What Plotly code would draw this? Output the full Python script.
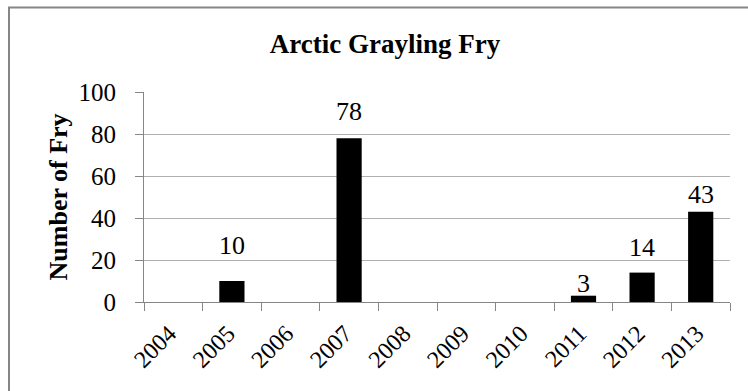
import plotly.graph_objects as go

years = ["2004", "2005", "2006", "2007", "2008", "2009", "2010", "2011", "2012", "2013"]
fry_counts = [0, 10, 0, 78, 0, 0, 0, 3, 14, 43]
y_ticks = [0, 20, 40, 60, 80, 100]
# vertical offset (px) of each value label above its bar top
label_offsets = [0, 36, 0, 27, 0, 0, 0, 12, 25, 17]

SERIF = "Liberation Serif, Times New Roman, serif"
AXIS_GRAY = "#868686"

fig = go.Figure(
    go.Bar(
        x=years,
        y=fry_counts,
        marker=dict(color="black", line=dict(width=0)),
        hoverinfo="x+y",
    )
)

# value labels; category axes take the category index as position
for idx, (val, off) in enumerate(zip(fry_counts, label_offsets)):
    if val > 0:
        fig.add_annotation(
            x=idx, y=val, text=str(val), showarrow=False,
            yanchor="middle", yshift=off,
            font=dict(family=SERIF, size=26, color="black"),
        )

# y-axis title
fig.add_annotation(
    xref="paper", yref="paper", x=-0.146, y=0.5,
    text="<b>Number of Fry</b>", textangle=-90, showarrow=False,
    xanchor="center", yanchor="middle",
    font=dict(family=SERIF, size=26, color="black"),
)

# chart frame
fig.add_shape(
    type="rect", xref="paper", yref="paper",
    x0=(9 - 144) / 586, x1=1.2, y0=-0.6, y1=(302 - 7.5) / 210,
    line=dict(color=AXIS_GRAY, width=2), fillcolor="rgba(0,0,0,0)", layer="below",
)

fig.update_layout(
    width=748, height=391,
    margin=dict(l=144, r=18, t=92, b=89),
    paper_bgcolor="white", plot_bgcolor="white",
    bargap=0.57,
    showlegend=False,
    title=dict(
        text="<b>Arctic Grayling Fry</b>",
        x=385 / 748, xanchor="center", xref="container",
        y=1 - 44 / 391, yanchor="middle", yref="container",
        font=dict(family=SERIF, size=27, color="black"),
    ),
    xaxis=dict(
        type="category", range=[-0.5, len(years) - 0.5], tickson="boundaries",
        ticks="outside", ticklen=8, tickcolor=AXIS_GRAY, tickwidth=1,
        showline=True, linecolor=AXIS_GRAY, linewidth=1,
        showgrid=False, tickangle=-45,
        ticklabelstandoff=7, ticklabelshift=-4,
        tickfont=dict(family=SERIF, size=24, color="black"),
    ),
    yaxis=dict(
        range=[0, 100], tickvals=y_ticks,
        ticks="outside", ticklen=8, tickcolor=AXIS_GRAY, tickwidth=1,
        showline=True, linecolor=AXIS_GRAY, linewidth=1,
        showgrid=True, gridcolor="#b0b0b0", gridwidth=1,
        zeroline=False, ticklabelstandoff=14,
        tickfont=dict(family=SERIF, size=25, color="black"),
    ),
)

fig.write_html("out.html")
